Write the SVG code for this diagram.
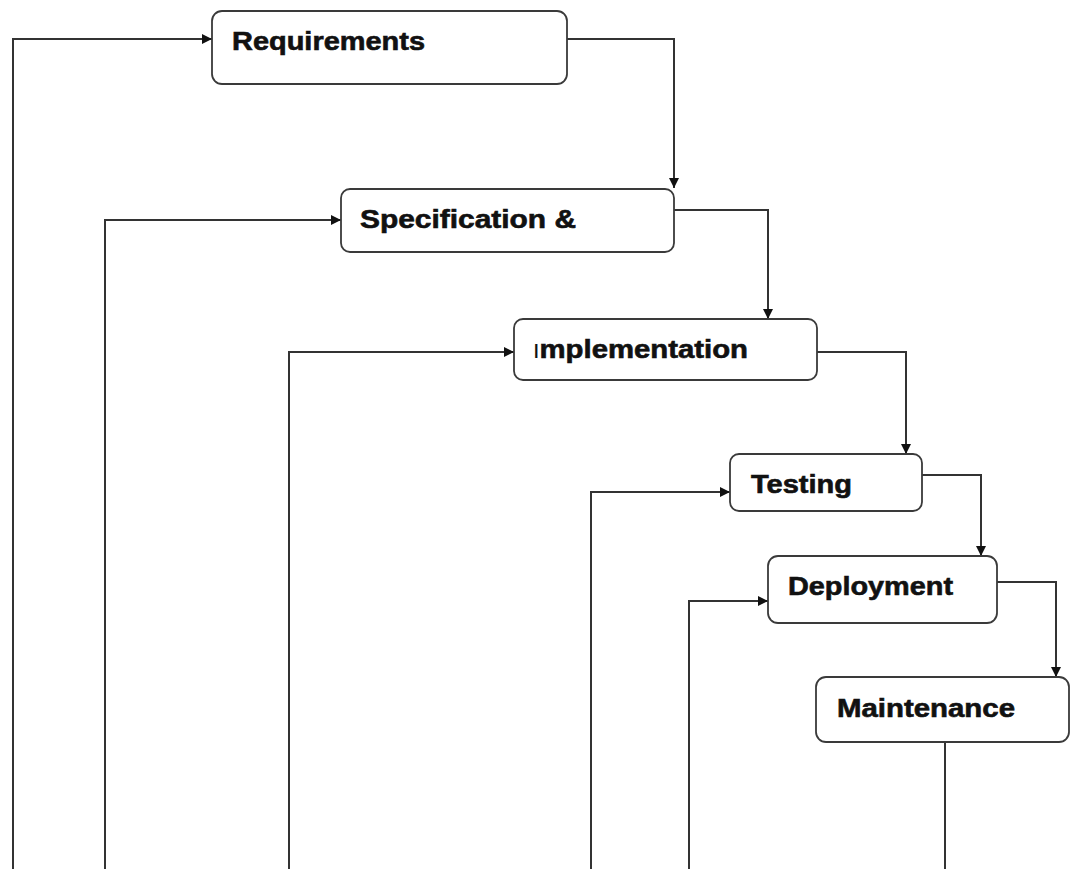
<svg xmlns="http://www.w3.org/2000/svg" width="1070" height="869" viewBox="0 0 1070 869">
<defs>
<style>
.box{fill:#fff;stroke:#3a3a3a;stroke-width:1.8}
.lbl{font-family:"Liberation Sans",Arial,sans-serif;font-weight:bold;font-size:25px;fill:#111;stroke:#111;stroke-width:0.6}
.ln{fill:none;stroke:#333;stroke-width:2}
</style>
<marker id="ah" viewBox="0 0 10 10" refX="10" refY="5" markerWidth="11" markerHeight="10" markerUnits="userSpaceOnUse" orient="auto">
<path d="M0,0 L10,5 L0,10 z" fill="#111"/>
</marker>
</defs>
<rect width="1070" height="869" fill="#fff"/>
<g id="connectors">
<path class="ln" d="M13,869 V39 H212" marker-end="url(#ah)"/>
<path class="ln" d="M567,39 H674 V188" marker-end="url(#ah)"/>
<path class="ln" d="M105,869 V220 H341" marker-end="url(#ah)"/>
<path class="ln" d="M674,210 H768 V319" marker-end="url(#ah)"/>
<path class="ln" d="M289,869 V352 H514" marker-end="url(#ah)"/>
<path class="ln" d="M817,352 H906 V454" marker-end="url(#ah)"/>
<path class="ln" d="M591,869 V492 H730" marker-end="url(#ah)"/>
<path class="ln" d="M922,475 H981 V556" marker-end="url(#ah)"/>
<path class="ln" d="M689,869 V601 H768" marker-end="url(#ah)"/>
<path class="ln" d="M997,582 H1056 V677" marker-end="url(#ah)"/>
<path class="ln" d="M945,742 V869"/>
</g>
<g id="requirements">
<rect class="box" x="212" y="11" width="355" height="73" rx="10"/>
<text class="lbl" x="232" y="50" textLength="193" lengthAdjust="spacingAndGlyphs">Requirements</text>
</g>
<g id="specification">
<rect class="box" x="341" y="189" width="333" height="63" rx="9"/>
<text class="lbl" x="360" y="228" textLength="216" lengthAdjust="spacingAndGlyphs">Specification &amp;</text>
</g>
<g id="implementation">
<rect class="box" x="514" y="319" width="303" height="61" rx="9"/>
<text class="lbl" x="533" y="358" textLength="215" lengthAdjust="spacingAndGlyphs"><tspan font-weight="normal" font-size="20" stroke-width="0">I</tspan>mplementation</text>
</g>
<g id="testing">
<rect class="box" x="730" y="454" width="192" height="57" rx="9"/>
<text class="lbl" x="751" y="493" textLength="101" lengthAdjust="spacingAndGlyphs">Testing</text>
</g>
<g id="deployment">
<rect class="box" x="768" y="556" width="229" height="67" rx="10"/>
<text class="lbl" x="788" y="595" textLength="165" lengthAdjust="spacingAndGlyphs">Deployment</text>
</g>
<g id="maintenance">
<rect class="box" x="816" y="677" width="253" height="65" rx="10"/>
<text class="lbl" x="837" y="717" textLength="178" lengthAdjust="spacingAndGlyphs">Maintenance</text>
</g>
</svg>
